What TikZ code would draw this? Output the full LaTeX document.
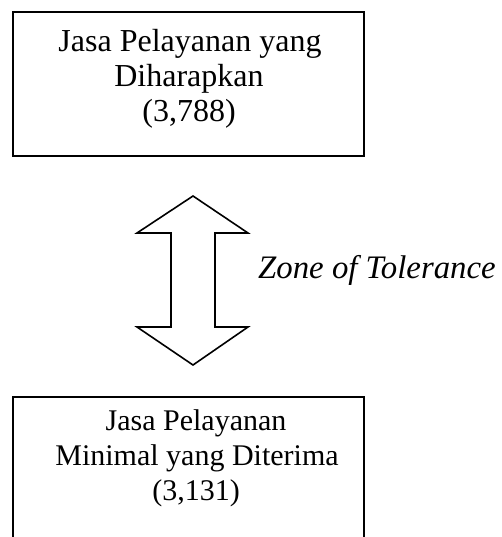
\documentclass[tikz,border=0pt]{standalone}
\usepackage{fontspec}
\setmainfont{Liberation Serif}
\begin{document}
\begin{tikzpicture}[x=1pt,y=-1pt,
  box/.style={draw=black,line width=1.8pt,inner sep=0pt},
  linetext/.style={anchor=base,inner sep=0pt,font=\fontsize{32}{35}\selectfont},
  lowtext/.style={anchor=base,inner sep=0pt,font=\fontsize{30}{35}\selectfont},
  zonelabel/.style={anchor=base west,inner sep=0pt,font=\fontsize{32.8}{36}\selectfont\itshape},
  blockarrow/.style={draw=black,line width=1.6pt,line join=miter}]
\useasboundingbox (0,0) rectangle (502,537);
\clip (0,0) rectangle (502,537);

% upper box: expected service
\node[box,minimum width=351pt,minimum height=144pt] (expected) at (188.5,84) {};
\node[linetext] (e1) at (190,52) {Jasa Pelayanan yang};
\node[linetext] (e2) at (189,87) {Diharapkan};
\node[linetext] (e3) at (189,122) {(3,788)};

% lower box: minimum service received, running past the bottom edge
\node[box,minimum width=351pt,minimum height=160pt] (minimal) at (188.5,477) {};
\node[lowtext] (m1) at (196,430) {Jasa Pelayanan};
\node[lowtext] (m2) at (197,465) {Minimal yang Diterima};
\node[lowtext] (m3) at (196,500) {(3,131)};

% double block arrow between the two levels, traced from its upper tip
\coordinate (uptip) at (193,196);
\draw[blockarrow]
  (uptip) -- ++(-56,37) -- ++(34,0) -- ++(0,94) -- ++(-34,0)
  -- ++(56,38) -- ++(55,-38) -- ++(-33,0) -- ++(0,-94) -- ++(33,0)
  -- cycle;

\node[zonelabel] (tol) at (258,278) {Zone of Tolerance};
\end{tikzpicture}
\end{document}
